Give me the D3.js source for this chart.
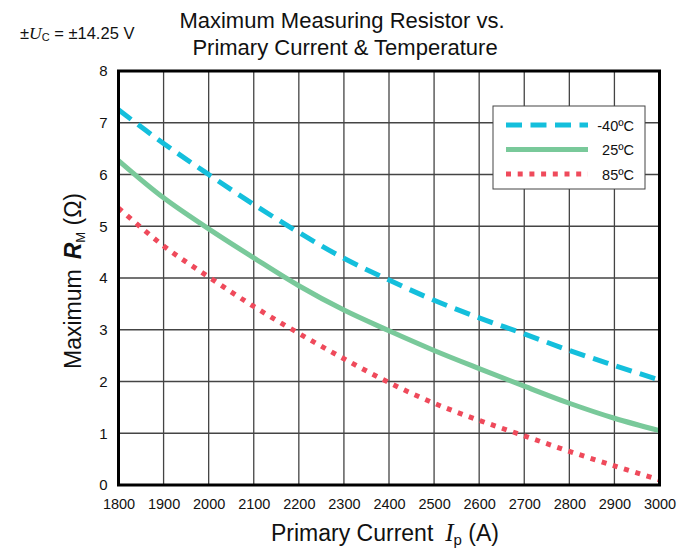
<!DOCTYPE html>
<html>
<head>
<meta charset="utf-8">
<script src="https://cdn.jsdelivr.net/npm/d3@7"></script>
<style>
  body { margin: 0; background: #fff; }
  svg { display: block; font-family: "Liberation Sans", Arial, sans-serif; }
</style>
</head>
<body>
<div id="chart"></div>
<script>
const W = 696;
const H = 550;

// primary current (A)
const currents = [1800, 1900, 2000, 2100, 2200, 2300, 2400, 2500, 2600, 2700, 2800, 2900, 3000];
// maximum measuring resistor (ohm) per temperature
const rMinus40 = [7.25, 6.60, 6.00, 5.42, 4.88, 4.38, 3.96, 3.57, 3.23, 2.92, 2.60, 2.31, 2.03];
const r25 = [6.27, 5.55, 4.95, 4.39, 3.85, 3.38, 2.98, 2.60, 2.25, 1.91, 1.58, 1.29, 1.05];
const r85 = [5.35, 4.62, 4.02, 3.45, 2.93, 2.44, 1.98, 1.58, 1.25, 0.95, 0.65, 0.37, 0.10];

const xTicks = d3.range(1800, 3001, 100);
const yTicks = [0, 1, 2, 3, 4, 5, 6, 7, 8];

const seriesNames = ['-40ºC', '25ºC', '85ºC'];
const seriesValues = [rMinus40, r25, r85];
const seriesColors = ['#14bfdc', '#79c99a', '#ef4a5b'];
const seriesDash = ['16,8.5', null, '5,6.7'];

const m = { left: 118.5, right: W - 659.5, top: 71, bottom: H - 485 };

const svg = d3.select('#chart').append('svg')
  .attr('width', W)
  .attr('height', H);

const x = d3.scaleLinear().domain([1800, 3000]).range([m.left, W - m.right]);
const y = d3.scaleLinear().domain([0, 8]).range([H - m.bottom, m.top]);

// grid
const grid = svg.append('g').attr('class', 'grid');
grid.selectAll('line.v')
  .data(xTicks.slice(1, -1))
  .join('line')
  .attr('class', 'v')
  .attr('x1', d => x(d)).attr('x2', d => x(d))
  .attr('y1', y(0)).attr('y2', y(8))
  .attr('stroke', '#444').attr('stroke-width', 1.3);
grid.selectAll('line.h')
  .data(yTicks.slice(1, -1))
  .join('line')
  .attr('class', 'h')
  .attr('x1', x(1800)).attr('x2', x(3000))
  .attr('y1', d => y(d)).attr('y2', d => y(d))
  .attr('stroke', '#444').attr('stroke-width', 1.3);

// axes (labels only)
const xAxis = svg.append('g')
  .attr('transform', `translate(0,${y(0)})`)
  .call(d3.axisBottom(x).tickValues(xTicks).tickFormat(d3.format('d')).tickSize(0).tickPadding(14));
xAxis.select('.domain').remove();
xAxis.selectAll('text').attr('font-size', 14.5).attr('fill', '#111')
  .attr('font-family', '"Liberation Sans", Arial, sans-serif');

const yAxis = svg.append('g')
  .attr('transform', `translate(${x(1800)},0)`)
  .call(d3.axisLeft(y).tickValues(yTicks).tickSize(0).tickPadding(11));
yAxis.select('.domain').remove();
yAxis.selectAll('text').attr('font-size', 15).attr('fill', '#111')
  .attr('font-family', '"Liberation Sans", Arial, sans-serif');

// curves
const line = d3.line()
  .x((d, i) => x(currents[i]))
  .y(d => y(d))
  .curve(d3.curveCatmullRom);

svg.append('g').attr('class', 'curves')
  .selectAll('path')
  .data(seriesValues)
  .join('path')
  .attr('d', line)
  .attr('fill', 'none')
  .attr('stroke', (d, i) => seriesColors[i])
  .attr('stroke-width', 5)
  .attr('stroke-dasharray', (d, i) => seriesDash[i]);

// frame
svg.append('rect')
  .attr('x', x(1800)).attr('y', y(8))
  .attr('width', x(3000) - x(1800)).attr('height', y(0) - y(8))
  .attr('fill', 'none').attr('stroke', '#000').attr('stroke-width', 3);

// legend
const lg = svg.append('g').attr('transform', 'translate(493,106)');
lg.append('rect')
  .attr('width', 152).attr('height', 83)
  .attr('fill', '#fff').attr('stroke', '#444').attr('stroke-width', 1);
const rows = lg.selectAll('g.row')
  .data(seriesNames)
  .join('g')
  .attr('class', 'row')
  .attr('transform', (d, i) => `translate(0,${19 + i * 24.5})`);
rows.append('line')
  .attr('x1', 13).attr('x2', 95)
  .attr('stroke', (d, i) => seriesColors[i])
  .attr('stroke-width', 5)
  .attr('stroke-dasharray', (d, i) => seriesDash[i]);
rows.append('text')
  .attr('x', 141).attr('y', 5.5)
  .attr('text-anchor', 'end')
  .attr('font-size', 14.5)
  .attr('fill', '#111')
  .text(d => d);

// titles
const title = svg.append('text')
  .attr('text-anchor', 'middle')
  .attr('font-size', 22)
  .attr('fill', '#111');
title.append('tspan').attr('x', 342).attr('y', 28).text('Maximum Measuring Resistor vs.');
title.append('tspan').attr('x', 345).attr('y', 55).text('Primary Current & Temperature');

const uc = svg.append('text')
  .attr('x', 20).attr('y', 39)
  .attr('font-size', 16.5)
  .attr('fill', '#111');
uc.append('tspan').text('±');
uc.append('tspan').attr('font-family', '"Liberation Serif", serif').attr('font-style', 'italic').attr('font-size', 17.5).text('U');
uc.append('tspan').attr('font-size', 11).attr('dy', 2).text('C');
uc.append('tspan').attr('dy', -2).text(' = ±14.25 V');

const xt = svg.append('text')
  .attr('x', 385).attr('y', 541)
  .attr('text-anchor', 'middle')
  .attr('font-size', 23)
  .attr('fill', '#111');
xt.append('tspan').text('Primary Current');
xt.append('tspan').attr('dx', 12).attr('font-family', '"Liberation Serif", serif').attr('font-style', 'italic').attr('font-size', 25).text('I');
xt.append('tspan').attr('font-size', 15).attr('dy', 3.5).text('p');
xt.append('tspan').attr('dy', -3.5).text(' (A)');

const yt = svg.append('text')
  .attr('transform', 'translate(81,281) rotate(-90)')
  .attr('text-anchor', 'middle')
  .attr('font-size', 23)
  .attr('fill', '#111');
yt.append('tspan').text('Maximum');
yt.append('tspan').attr('dx', 10).attr('font-weight', 'bold').attr('font-style', 'italic').text('R');
yt.append('tspan').attr('font-size', 13).attr('dy', 4).text('M');
yt.append('tspan').attr('dy', -4).text(' (Ω)');
</script>
</body>
</html>
